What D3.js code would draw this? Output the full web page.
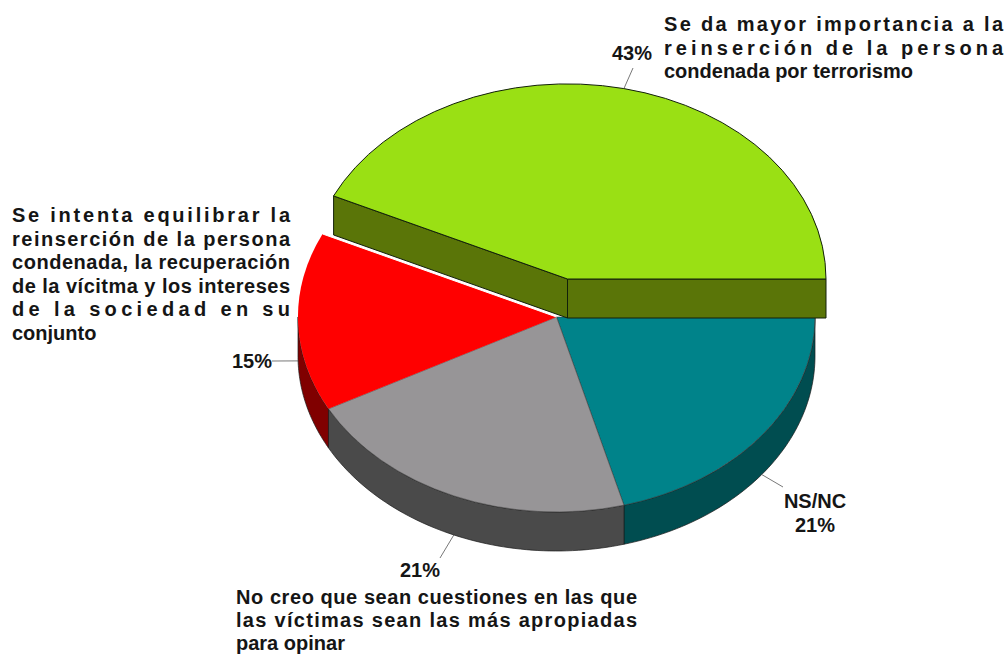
<!DOCTYPE html>
<html><head><meta charset="utf-8">
<script src="https://cdn.jsdelivr.net/npm/d3@7"></script>
<style>html,body{margin:0;padding:0;background:#fff}svg{display:block}text{font-family:"Liberation Sans",Arial,sans-serif;fill:#151515}</style>
</head><body><div id="c"></div>
<script>
const categories = ["Se da mayor importancia a la reinserción de la persona condenada por terrorismo","NS/NC","No creo que sean cuestiones en las que las víctimas sean las más apropiadas para opinar","Se intenta equilibrar la reinserción de la persona condenada, la recuperación de la vícitma y los intereses de la sociedad en su conjunto"];
const values = [43,20.8,21.4,14.8];
const topColors = ["#9ae014","#00838a","#979597","#ff0000"];
const sideColors = ["#5a7508","#004d50","#4a4a4a","#800000"];
const topLines = ["Se da mayor importancia a la","reinserción de la persona","condenada por terrorismo"];
const leftLines = ["Se intenta equilibrar la","reinserción de la persona","condenada, la recuperación","de la vícitma y los intereses","de la sociedad en su","conjunto"];
const bottomLines = ["No creo que sean cuestiones en las que","las víctimas sean las más apropiadas","para opinar"];

const W=1007,H=654,rx=258.5,ry=195,depth=39,fs=20;
const deg=Math.PI/180, start=-64.8*deg;
const centres=[[567.5,279],[556.5,317],[556.5,317],[556.5,317]];
const svg=d3.select("#c").append("svg").attr("width",W).attr("height",H);
const arcs=d3.pie().sort(null).value(d=>d).startAngle(start).endAngle(start+2*Math.PI)(values);
const arc=d3.arc().innerRadius(0).outerRadius(1);
const px=(i,a,r=1)=>centres[i][0]+rx*r*Math.sin(a);
const py=(i,a,r=1)=>centres[i][1]-ry*r*Math.cos(a);

const wall=(i,a0,a1)=>{
  const n=60, as=d3.range(n+1).map(k=>a0+(a1-a0)*k/n);
  const top=as.map(a=>[px(i,a),py(i,a)]);
  const bot=as.slice().reverse().map(a=>[px(i,a),py(i,a)+depth]);
  return d3.line()(top.concat(bot))+"Z";
};
const g=svg.append("g");
[1,2,3].forEach(i=>{
  const a0=Math.max(arcs[i].startAngle,Math.PI/2), a1=Math.min(arcs[i].endAngle,3*Math.PI/2);
  if(a1>a0) g.append("path").attr("d",wall(i,a0,a1)).attr("fill",sideColors[i]).attr("stroke","#1a1a1a").attr("stroke-width",.7);
});
[1,2,3].forEach(i=>{
  g.append("path").attr("transform",`translate(${centres[i]}) scale(${rx},${ry})`)
   .attr("d",arc({startAngle:arcs[i].startAngle,endAngle:arcs[i].endAngle}))
   .attr("fill",topColors[i]).attr("stroke",i==3?"none":"#333").attr("stroke-width",.5).attr("vector-effect","non-scaling-stroke");
});
g.append("line").attr("x1",centres[3][0]).attr("y1",centres[3][1]).attr("x2",px(3,arcs[3].endAngle)).attr("y2",py(3,arcs[3].endAngle))
 .attr("stroke","#fff").attr("stroke-width",1);
const [cx,cy]=centres[0];
const face=a=>d3.line()([[cx,cy],[px(0,a),py(0,a)],[px(0,a),py(0,a)+depth],[cx,cy+depth]])+"Z";
[arcs[0].startAngle,arcs[0].endAngle].forEach(a=>{
  g.append("path").attr("d",face(a)).attr("fill",sideColors[0]).attr("stroke","#12200a").attr("stroke-width",1);
});
g.append("path").attr("transform",`translate(${cx},${cy}) scale(${rx},${ry})`)
 .attr("d",arc(arcs[0])).attr("fill",topColors[0]).attr("stroke","#12200a").attr("stroke-width",1).attr("vector-effect","non-scaling-stroke");

const leaderEnds=[[633,68],[783,487],[440,558],[272,361]];
arcs.forEach((d,i)=>{
  const m=(d.startAngle+d.endAngle)/2, dz=Math.cos(m)<0?depth:0;
  g.append("line").attr("x1",px(i,m)).attr("y1",py(i,m)+dz).attr("x2",leaderEnds[i][0]).attr("y2",leaderEnds[i][1])
   .attr("stroke","#555").attr("stroke-width",.8);
});

const block=(lines,x,width,y0,dy,nJust)=>{
  lines.forEach((t,k)=>{
    const e=svg.append("text").attr("x",x).attr("y",y0+k*dy).attr("font-size",fs).attr("font-weight","bold").text(t);
    if(k<nJust) e.attr("textLength",width).attr("lengthAdjust","spacing");
  });
};
block(topLines,664,339,31,23.6,2);
block(leftLines,12,278,222,23.6,5);
block(bottomLines,236,401,604,22.9,2);
const fmt=d3.format(".0f");
const pctPos=[[632,60],[815,532],[420,577],[252,368]];
arcs.forEach((d,i)=>svg.append("text").attr("x",pctPos[i][0]).attr("y",pctPos[i][1]).attr("text-anchor","middle").attr("font-size",fs).attr("font-weight","bold").text(fmt(d.value)+"%"));
svg.append("text").attr("x",815).attr("y",508).attr("text-anchor","middle").attr("font-size",fs).attr("font-weight","bold").text(categories[1]);
</script></body></html>
